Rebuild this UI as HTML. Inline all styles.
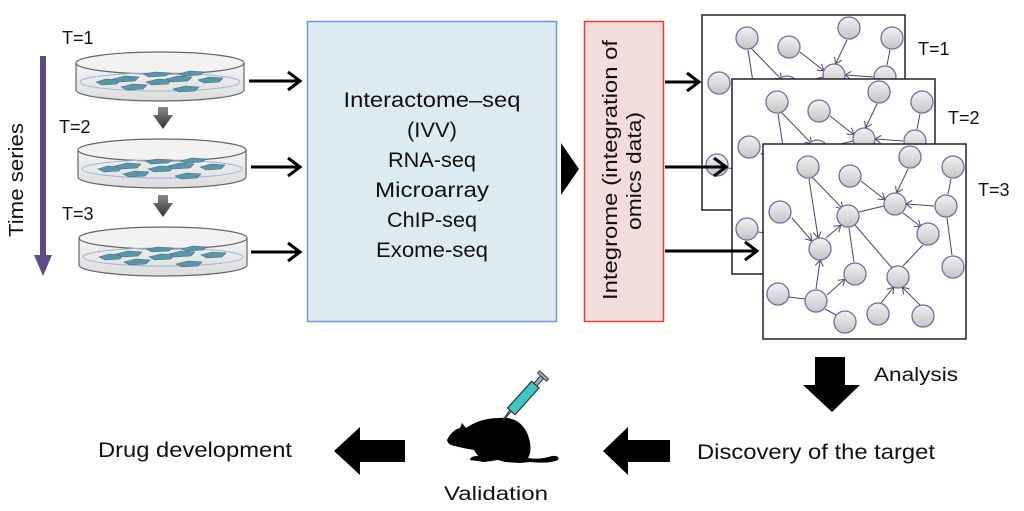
<!DOCTYPE html>
<html><head><meta charset="utf-8"><style>
html,body{margin:0;padding:0;background:#fff;}
svg{display:block;font-family:"Liberation Sans",sans-serif;}
</style></head><body>
<svg width="1024" height="511" viewBox="0 0 1024 511" xmlns="http://www.w3.org/2000/svg">
<defs>
<linearGradient id="ng" x1="0" y1="0" x2="0" y2="1"><stop offset="0" stop-color="#f2f2f2"/><stop offset="1" stop-color="#c4c4c4"/></linearGradient>
<linearGradient id="dg" x1="0" y1="0" x2="0" y2="1"><stop offset="0" stop-color="#f4f4f4"/><stop offset="1" stop-color="#dcdcdc"/></linearGradient>
<linearGradient id="ga" x1="0" y1="0" x2="0" y2="1"><stop offset="0" stop-color="#888"/><stop offset="1" stop-color="#333"/></linearGradient>
<marker id="ah" markerWidth="10" markerHeight="10" refX="6" refY="5" orient="auto" markerUnits="userSpaceOnUse"><path d="M1,1 L7,5 L1,9" fill="none" stroke="#53406e" stroke-width="1"/></marker>
<g id="dish">
<path d="M76,63 L76,90 A84,11 0 0 0 244,90 L244,63" fill="url(#dg)" stroke="#666" stroke-width="1.2"/>
<ellipse cx="160" cy="63" rx="84" ry="11" fill="#f2f2f2" stroke="#666" stroke-width="1.2"/>
<ellipse cx="160" cy="82" rx="80" ry="9" fill="none" stroke="#9bb6d8" stroke-width="1"/>
<g fill="#5a95a8" stroke="#3d6f80" stroke-width="0.6">
<path d="M96,82 l10,-3 l14,1 l-3,4 l-15,1z"/><path d="M113,79 l12,-3 l14,1 l-4,4 l-16,1z"/>
<path d="M121,87 l12,-3 l14,1 l-4,4 l-16,1z"/><path d="M143,74 l12,-2 l15,1 l-4,3 l-17,1z"/>
<path d="M146,82 l12,-3 l14,1 l-4,4 l-16,1z"/><path d="M166,79 l12,-3 l14,1 l-4,4 l-16,1z"/>
<path d="M178,74 l12,-3 l14,1 l-4,3 l-16,1z"/><path d="M198,80 l11,-3 l14,1 l-4,4 l-15,1z"/>
<path d="M173,89 l12,-3 l14,1 l-4,4 l-16,1z"/>
</g>
</g>
<g id="net">
<rect x="0" y="0" width="203" height="195" fill="#fff" stroke="#222" stroke-width="1.5"/>
<g stroke="#53406e" stroke-width="1" fill="none" marker-end="url(#ah)">
<line x1="49" y1="33" x2="79" y2="64"/><line x1="46" y1="35" x2="55" y2="93"/>
<line x1="98" y1="37" x2="121" y2="55"/><line x1="145" y1="25" x2="134" y2="48"/>
<line x1="171" y1="62" x2="144" y2="60"/><line x1="29" y1="74" x2="48" y2="96"/>
<line x1="63" y1="94" x2="77" y2="82"/><line x1="140" y1="69" x2="157" y2="82"/>
<line x1="53" y1="145" x2="57" y2="117"/><line x1="64" y1="151" x2="81" y2="136"/>
<line x1="118" y1="159" x2="130" y2="144"/><line x1="157" y1="161" x2="140" y2="144"/>
</g>
<g stroke="#53406e" stroke-width="1">
<line x1="188" y1="35" x2="185" y2="50"/><line x1="96" y1="68" x2="121" y2="62"/>
<line x1="86" y1="84" x2="91" y2="118"/><line x1="92" y1="81" x2="129" y2="124"/>
<line x1="160" y1="101" x2="140" y2="122"/><line x1="184" y1="74" x2="189" y2="111"/>
<line x1="26" y1="153" x2="42" y2="155"/><line x1="62" y1="165" x2="75" y2="172"/>
</g>
<g fill="url(#ng)" stroke="#7a68a0" stroke-width="1.3">
<circle cx="45" cy="23" r="11"/><circle cx="87" cy="32" r="11"/><circle cx="147" cy="13" r="11"/>
<circle cx="190" cy="23" r="11"/><circle cx="17" cy="68" r="11"/><circle cx="85" cy="72" r="11"/>
<circle cx="132" cy="60" r="11"/><circle cx="183" cy="62" r="11"/><circle cx="57" cy="105" r="11"/>
<circle cx="165" cy="90" r="11"/><circle cx="92" cy="130" r="11"/><circle cx="135" cy="133" r="11"/>
<circle cx="190" cy="123" r="11"/><circle cx="15" cy="150" r="11"/><circle cx="53" cy="157" r="11"/>
<circle cx="115" cy="170" r="11"/><circle cx="160" cy="172" r="11"/><circle cx="82" cy="178" r="11"/>
</g>
</g>
</defs>

<!-- time series -->
<rect x="40" y="56" width="6" height="200" fill="#5e4a85"/>
<polygon points="34,255 52,255 43,276" fill="#5e4a85"/>
<text transform="translate(23,180) rotate(-90)" font-size="20" text-anchor="middle" fill="#111" textLength="114" lengthAdjust="spacingAndGlyphs">Time series</text>

<text x="62" y="44" font-size="18" fill="#111">T=1</text>
<text x="59" y="133" font-size="18" fill="#111">T=2</text>
<text x="62" y="220" font-size="18" fill="#111">T=3</text>

<use href="#dish"/>
<use href="#dish" transform="translate(2,87)"/>
<use href="#dish" transform="translate(3,175)"/>
<polygon points="158,107 168,107 168,115 173,115 163,129 153,115 158,115" fill="url(#ga)"/>
<polygon points="158,195 168,195 168,203 173,203 163,217 153,203 158,203" fill="url(#ga)"/>

<g stroke="#000" stroke-width="3" fill="none">
<line x1="249" y1="81" x2="300" y2="81"/><polyline points="288,72 300,81 288,90"/>
<line x1="251" y1="167" x2="300" y2="167"/><polyline points="288,158 300,167 288,176"/>
<line x1="251" y1="252" x2="300" y2="252"/><polyline points="288,243 300,252 288,261"/>
</g>

<!-- blue box -->
<rect x="307.5" y="21.5" width="249" height="300" fill="#dcebf2" stroke="#6f95e0" stroke-width="1.5"/>
<g font-size="21" text-anchor="middle" fill="#111" lengthAdjust="spacingAndGlyphs">
<text x="432" y="107" textLength="177" lengthAdjust="spacingAndGlyphs">Interactome–seq</text>
<text x="432" y="137" textLength="50" lengthAdjust="spacingAndGlyphs">(IVV)</text>
<text x="432" y="167" textLength="88" lengthAdjust="spacingAndGlyphs">RNA-seq</text>
<text x="432" y="197" textLength="114" lengthAdjust="spacingAndGlyphs">Microarray</text>
<text x="432" y="227" textLength="90" lengthAdjust="spacingAndGlyphs">ChIP-seq</text>
<text x="432" y="257" textLength="112" lengthAdjust="spacingAndGlyphs">Exome-seq</text>
</g>
<polygon points="561,143 579,169 561,195" fill="#000"/>

<!-- red box -->
<rect x="584.5" y="21.5" width="79" height="300" fill="#f3dcdc" stroke="#ee3b3b" stroke-width="1.5"/>
<text transform="translate(617,170) rotate(-90)" font-size="20" text-anchor="middle" fill="#111" textLength="260" lengthAdjust="spacingAndGlyphs">Integrome (integration of</text>
<text transform="translate(641,171) rotate(-90)" font-size="20" text-anchor="middle" fill="#111" textLength="118" lengthAdjust="spacingAndGlyphs">omics data)</text>

<!-- networks -->
<g transform="translate(702,15)"><use href="#net"/></g>
<g transform="translate(732,79)"><use href="#net"/></g>
<g transform="translate(763,144)"><use href="#net"/></g>
<text x="918" y="55" font-size="18" fill="#111">T=1</text>
<text x="948" y="124" font-size="18" fill="#111">T=2</text>
<text x="978" y="196" font-size="18" fill="#111">T=3</text>

<g stroke="#000" stroke-width="3" fill="none">
<line x1="665" y1="82" x2="698" y2="82"/><polyline points="687,73 699,82 687,91"/>
<line x1="665" y1="167" x2="725" y2="167"/><polyline points="714,158 726,167 714,176"/>
<line x1="665" y1="251" x2="756" y2="251"/><polyline points="745,242 757,251 745,260"/>
</g>

<!-- bottom -->
<polygon points="815,357 845,357 845,385 860,385 832,412 803,385 815,385" fill="#000"/>
<text x="874" y="381" font-size="19" fill="#111" textLength="84" lengthAdjust="spacingAndGlyphs">Analysis</text>
<text x="697" y="459" font-size="21" fill="#111" textLength="238" lengthAdjust="spacingAndGlyphs">Discovery of the target</text>
<polygon points="670,440 628,440 628,427 603,451 628,475 628,462 670,462" fill="#000"/>
<polygon points="405,440 360,440 360,427 334,451 360,475 360,462 405,462" fill="#000"/>
<text x="98" y="457" font-size="21" fill="#111" textLength="194" lengthAdjust="spacingAndGlyphs">Drug development</text>
<text x="496" y="500" font-size="19" text-anchor="middle" fill="#111" textLength="104" lengthAdjust="spacingAndGlyphs">Validation</text>

<!-- mouse -->
<g>
<path d="M447,440 Q452,430 460,428 L462,423 L466,428 Q480,418 500,418 Q520,416 528,435 Q533,450 528,458 Q540,460 552,456 Q560,455 558,460 Q550,464 530,462 L520,463 L505,462 L498,460 L484,462 L470,460 Q470,456 478,456 L474,450 Q462,448 455,446 Q448,445 447,440Z" fill="#000"/>
<line x1="503" y1="420" x2="510" y2="410" stroke="#333" stroke-width="1.2"/>
<g transform="translate(526,395) rotate(-48)">
<rect x="-22" y="-5" width="36" height="10" fill="#3cc6c6" stroke="#333" stroke-width="1.2"/>
<rect x="14" y="-2" width="10" height="4" fill="#aac" stroke="#333" stroke-width="1"/>
<rect x="24" y="-6" width="3" height="12" fill="#aac" stroke="#333" stroke-width="1"/>
<line x1="-22" y1="0" x2="-34" y2="0" stroke="#333" stroke-width="1.2"/>
</g>
</g>
</svg>
</body></html>
